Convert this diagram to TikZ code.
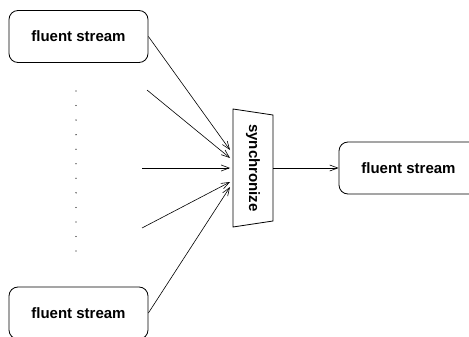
\documentclass[tikz,border=0pt]{standalone}
\usepackage{fontspec}
\setmainfont{Liberation Sans}
\usetikzlibrary{arrows.meta}
\begin{document}
\begin{tikzpicture}[x=1pt,y=-1pt,
  streambox/.style={draw, line width=0.8pt, rounded corners=9pt, minimum width=139pt, minimum height=52pt, inner sep=0pt, font=\fontsize{15}{18}\selectfont\bfseries},
  conn/.style={line width=0.6pt, -{Straight Barb[length=8pt,width=6pt]}},
  dotmark/.style={circle, fill, inner sep=0pt, minimum size=1.3pt}]
\useasboundingbox (0,0) rectangle (469,337);
\begin{scope}
\clip (0,0) rectangle (469,337);
\node[streambox] (top) at (78.5,36.5) {fluent stream};
\node[streambox] (bot) at (78.5,313) {fluent stream};
\node[streambox] (out) at (408.5,168) {fluent stream};
\end{scope}
\draw[line width=0.8pt] (233,109) -- (273,115) -- (273,221) -- (233,227) -- cycle;
\node[rotate=-90, font=\fontsize{15}{18}\selectfont\bfseries, inner sep=0pt] (sync) at (253,168) {synchronize};
\coordinate (syncin1) at (230,150);
\coordinate (syncin2) at (230,158);
\coordinate (syncin3) at (230,168);
\coordinate (syncin4) at (230,182);
\coordinate (syncin5) at (230,187);
\coordinate (syncout) at (273,168);
\coordinate (s2) at (147,90);
\coordinate (s3) at (142,168);
\coordinate (s4) at (142,228);
\draw[conn] (top.east) -- (syncin1);
\draw[conn] (s2) -- (syncin2);
\draw[conn] (s3) -- (syncin3);
\draw[conn] (s4) -- (syncin4);
\draw[conn] (bot.east) -- (syncin5);
\draw[conn] (syncout) -- (out.west);
\foreach \i in {0,...,11} {
  \node[dotmark] (d\i) at (76,{91+\i*14.55}) {};
}
\end{tikzpicture}
\end{document}
